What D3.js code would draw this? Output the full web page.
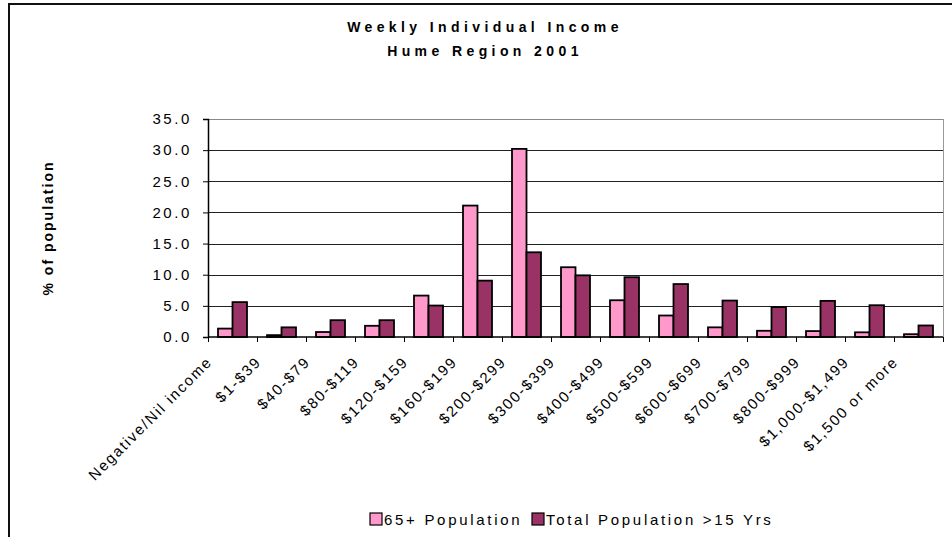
<!DOCTYPE html>
<html>
<head>
<meta charset="utf-8">
<script src="https://cdn.jsdelivr.net/npm/d3@7"></script>
<style>
  body { margin: 0; background: #fff; }
  svg { display: block; font-family: Arial, "Liberation Sans", sans-serif; }
</style>
</head>
<body>
<svg width="952" height="537"></svg>
<script>
var categories = ["Negative/Nil income", "$1-$39", "$40-$79", "$80-$119", "$120-$159",
  "$160-$199", "$200-$299", "$300-$399", "$400-$499", "$500-$599", "$600-$699",
  "$700-$799", "$800-$999", "$1,000-$1,499", "$1,500 or more"];
var seriesNames = ["65+ Population", "Total Population >15 Yrs"];
var pop65 = [1.35, 0.3, 0.8, 1.8, 6.65, 21.1, 30.2, 11.2, 5.9, 3.45, 1.55, 1.0, 0.95, 0.75, 0.45];
var popTotal = [5.6, 1.55, 2.7, 2.7, 5.05, 9.05, 13.6, 9.9, 9.6, 8.5, 5.85, 4.8, 5.8, 5.1, 1.85];
var yTicks = [0, 5, 10, 15, 20, 25, 30, 35];
var colors = ["#ff99cc", "#993366"];

var svg = d3.select("svg");

// outer frame (left + top edges visible)
svg.append("path")
  .attr("d", "M9,537 V4 H952")
  .attr("fill", "none")
  .attr("stroke", "#111")
  .attr("stroke-width", 2);

var plotLeft = 208, plotRight = 943, plotTop = 119, plotBottom = 337;

var x = d3.scaleBand().domain(categories).range([plotLeft, plotRight]);
var y = d3.scaleLinear().domain([0, 35]).range([plotBottom, plotTop]);
var inner = d3.scaleBand().domain([0, 1]).range([0, x.bandwidth()]).paddingInner(0).paddingOuter(0.69);

// title
var title = svg.append("text")
  .attr("text-anchor", "middle")
  .style("font-weight", "bold")
  .style("font-size", "14px")
  .style("letter-spacing", "4.4px");
title.append("tspan").attr("x", 485).attr("y", 32).text("Weekly Individual Income");
title.append("tspan").attr("x", 485).attr("y", 56).text("Hume Region 2001");

// gridlines
svg.append("g").selectAll("line")
  .data(yTicks.slice(1))
  .enter()
  .append("line")
  .attr("x1", plotLeft).attr("x2", plotRight)
  .attr("y1", function (d) { return Math.round(y(d)) + 0.5; })
  .attr("y2", function (d) { return Math.round(y(d)) + 0.5; })
  .attr("stroke", function (d) { return d == 35 ? "#888" : "#222"; });

// right border of plot
svg.append("line")
  .attr("x1", plotRight + 0.5).attr("x2", plotRight + 0.5)
  .attr("y1", plotTop).attr("y2", plotBottom)
  .attr("stroke", "#999");

// bars
var groups = svg.append("g").selectAll("g")
  .data(categories)
  .enter()
  .append("g")
  .attr("transform", function (d) { return "translate(" + x(d) + ",0)"; });

groups.selectAll("rect")
  .data(function (d, i) { return [pop65[i], popTotal[i]]; })
  .enter()
  .append("rect")
  .attr("x", function (d, j) { return inner(j); })
  .attr("width", inner.bandwidth())
  .attr("y", function (d) { return y(d); })
  .attr("height", function (d) { return plotBottom - y(d); })
  .attr("fill", function (d, j) { return colors[j]; })
  .attr("stroke", "#000")
  .attr("stroke-width", 1.8);

// y axis
var yAxis = svg.append("g")
  .attr("transform", "translate(" + plotLeft + ",0)")
  .call(d3.axisLeft(y).tickValues(yTicks).tickSize(5).tickPadding(11)
    .tickFormat(d3.format(".1f")));
yAxis.select(".domain").attr("stroke", "#000").attr("stroke-width", 1.5);
yAxis.selectAll(".tick line").attr("stroke", "#000");
yAxis.selectAll(".tick text")
  .style("font-size", "15px")
  .style("letter-spacing", "2.6px")
  .attr("fill", "#000");

// x axis
var xAxis = svg.append("g").attr("transform", "translate(0," + plotBottom + ")");
xAxis.append("line")
  .attr("x1", plotLeft).attr("x2", plotRight)
  .attr("stroke", "#000").attr("stroke-width", 1.5);
xAxis.selectAll(".xtick")
  .data(d3.range(categories.length + 1))
  .enter()
  .append("line")
  .attr("x1", function (k) { return Math.round(plotLeft + k * x.step()) + 0.5; })
  .attr("x2", function (k) { return Math.round(plotLeft + k * x.step()) + 0.5; })
  .attr("y1", 0).attr("y2", 5)
  .attr("stroke", "#000");

xAxis.selectAll(".xlabel")
  .data(categories)
  .enter()
  .append("text")
  .attr("text-anchor", "end")
  .attr("dy", "0.35em")
  .attr("transform", function (d) {
    return "translate(" + (x(d) + x.bandwidth() / 2 - 23) + ",22) rotate(-45)";
  })
  .style("font-size", "15px")
  .style("letter-spacing", "1.8px")
  .text(function (d) { return d; });

// y axis title
svg.append("text")
  .attr("transform", "translate(48,228) rotate(-90)")
  .attr("text-anchor", "middle")
  .attr("dy", "0.35em")
  .style("font-weight", "bold")
  .style("font-size", "14px")
  .style("letter-spacing", "2px")
  .text("% of population");

// legend
var legendX = [370, 532];
var legend = svg.append("g").selectAll("g")
  .data(seriesNames)
  .enter()
  .append("g")
  .attr("transform", function (d, i) { return "translate(" + legendX[i] + ",513)"; });
legend.append("rect")
  .attr("width", 12).attr("height", 12)
  .attr("fill", function (d, i) { return colors[i]; })
  .attr("stroke", "#000")
  .attr("stroke-width", 1.2);
legend.append("text")
  .attr("x", 14).attr("y", 11.5)
  .style("font-size", "15px")
  .style("letter-spacing", "2.7px")
  .text(function (d) { return d; });
</script>
</body>
</html>
